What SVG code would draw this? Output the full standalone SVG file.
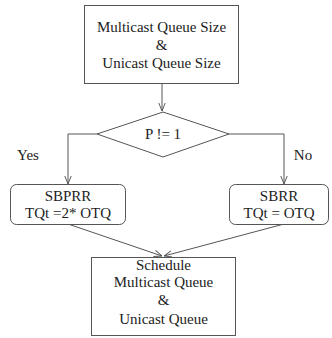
<svg xmlns="http://www.w3.org/2000/svg" width="332" height="338" viewBox="0 0 332 338">
<style>
.box{fill:#fff;stroke:#555;stroke-width:1}
.ln{fill:none;stroke:#555;stroke-width:1}
.t{font-family:'Liberation Serif','Times New Roman',Times,serif;font-size:15px;fill:#222;text-anchor:middle}
</style>
<defs>
<marker id="arr" viewBox="0 0 10 10" refX="10" refY="5" markerWidth="8" markerHeight="8" orient="auto" markerUnits="userSpaceOnUse">
<path d="M0,1 L10,5 L0,9" fill="none" stroke="#555" stroke-width="1.2"/>
</marker>
</defs>
<rect width="332" height="338" fill="#fff"/>
<g id="connectors">
<path class="ln" d="M162,83 V111" marker-end="url(#arr)"/>
<path class="ln" d="M97,134 H68 V184" marker-end="url(#arr)"/>
<path class="ln" d="M229,134 H284 V184" marker-end="url(#arr)"/>
<path class="ln" d="M68,224 L162,256" marker-end="url(#arr)"/>
<path class="ln" d="M284,224 L164,256" marker-end="url(#arr)"/>
</g>
<g id="start">
<rect class="box" x="84.5" y="5.5" width="154" height="78"/>
<text class="t" x="161.5" y="32">Multicast Queue Size</text>
<text class="t" x="161.5" y="50">&amp;</text>
<text class="t" x="161.5" y="68">Unicast Queue Size</text>
</g>
<g id="decision">
<polygon class="box" points="163,112 229,134 163,157 97,134"/>
<text class="t" x="163" y="139">P != 1</text>
</g>
<g id="yes-label"><text class="t" x="28" y="160">Yes</text></g>
<g id="no-label"><text class="t" x="303" y="160">No</text></g>
<g id="sbprr">
<rect class="box" x="10.5" y="184.5" width="115" height="40" rx="6"/>
<text class="t" x="68" y="201">SBPRR</text>
<text class="t" x="68" y="218">TQt =2* OTQ</text>
</g>
<g id="sbrr">
<rect class="box" x="229.5" y="184.5" width="99" height="40" rx="6"/>
<text class="t" x="279" y="201">SBRR</text>
<text class="t" x="279" y="218">TQt = OTQ</text>
</g>
<g id="schedule">
<rect class="box" x="91.5" y="257.5" width="144" height="78"/>
<text class="t" x="163.5" y="270">Schedule</text>
<text class="t" x="163.5" y="287">Multicast Queue</text>
<text class="t" x="163.5" y="305">&amp;</text>
<text class="t" x="163.5" y="324">Unicast Queue</text>
</g>
</svg>
